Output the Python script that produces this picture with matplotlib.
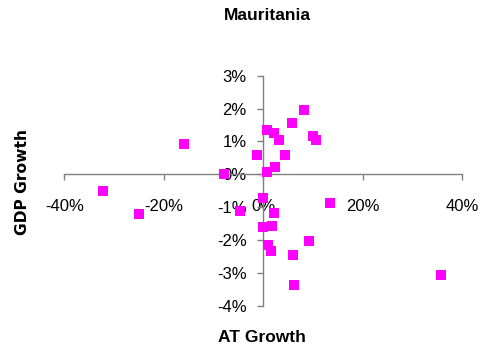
import matplotlib
matplotlib.use("Agg")
import matplotlib.pyplot as plt
from matplotlib.ticker import FuncFormatter

# AT growth (%) vs GDP growth (%), Mauritania
at_growth = [-32.2, -24.9, -15.9, -7.9, -1.3, 0.8, 2.1, 3.1, 4.4, 5.8,
             8.1, 10.0, 10.5, 2.3, 0.7, -0.1, 13.5, -4.6, 2.1, -0.1,
             1.8, 0.9, 1.5, 9.1, 6.0, 6.1, 35.8]
gdp_growth = [-0.52, -1.22, 0.91, 0.02, 0.58, 1.34, 1.27, 1.03, 0.60, 1.57,
              1.95, 1.16, 1.04, 0.23, 0.07, -0.72, -0.88, -1.12, -1.17, -1.59,
              -1.57, -2.16, -2.35, -2.04, -2.46, -3.36, -3.06]

x_ticks = [-40, -20, 0, 20, 40]
y_ticks = [-4, -3, -2, -1, 0, 1, 2, 3]

plt.rcParams["font.family"] = ["Liberation Sans", "DejaVu Sans"]

fig = plt.figure(figsize=(4.85, 3.52), dpi=100)
ax = fig.add_axes([0.1326, 0.1315, 0.8206, 0.6535])

ax.scatter(at_growth, gdp_growth, marker="s", s=44, color="#ff00ff",
           linewidths=0, zorder=3, clip_on=False)

ax.set_xlim(-40, 40)
ax.set_ylim(-4, 3)
ax.set_xticks(x_ticks)
ax.set_yticks(y_ticks)
pct = FuncFormatter(lambda v, _: f"{v:.0f}%")
ax.xaxis.set_major_formatter(pct)
ax.yaxis.set_major_formatter(pct)

for side in ("top", "right"):
    ax.spines[side].set_visible(False)
for side in ("left", "bottom"):
    ax.spines[side].set_position(("data", 0))
    ax.spines[side].set_color("#808080")
    ax.spines[side].set_linewidth(1.0)

ax.tick_params(axis="x", direction="out", length=4, width=1.0, color="#808080",
               labelsize=12, pad=14)
ax.tick_params(axis="y", direction="out", length=4, width=1.0, color="#808080",
               labelsize=12, pad=8)
for lab in ax.get_xticklabels() + ax.get_yticklabels():
    lab.set_zorder(4)

fig.text(0.551, 0.955, "Mauritania", ha="center", va="center",
         fontsize=12.5, fontweight="bold")
fig.text(0.540, 0.040, "AT Growth", ha="center", va="center",
         fontsize=12.5, fontweight="bold")
fig.text(0.047, 0.484, "GDP Growth", ha="center", va="center", rotation=90,
         fontsize=11.2, fontweight="bold", family="DejaVu Sans")

fig.savefig("out.png", dpi=100)
